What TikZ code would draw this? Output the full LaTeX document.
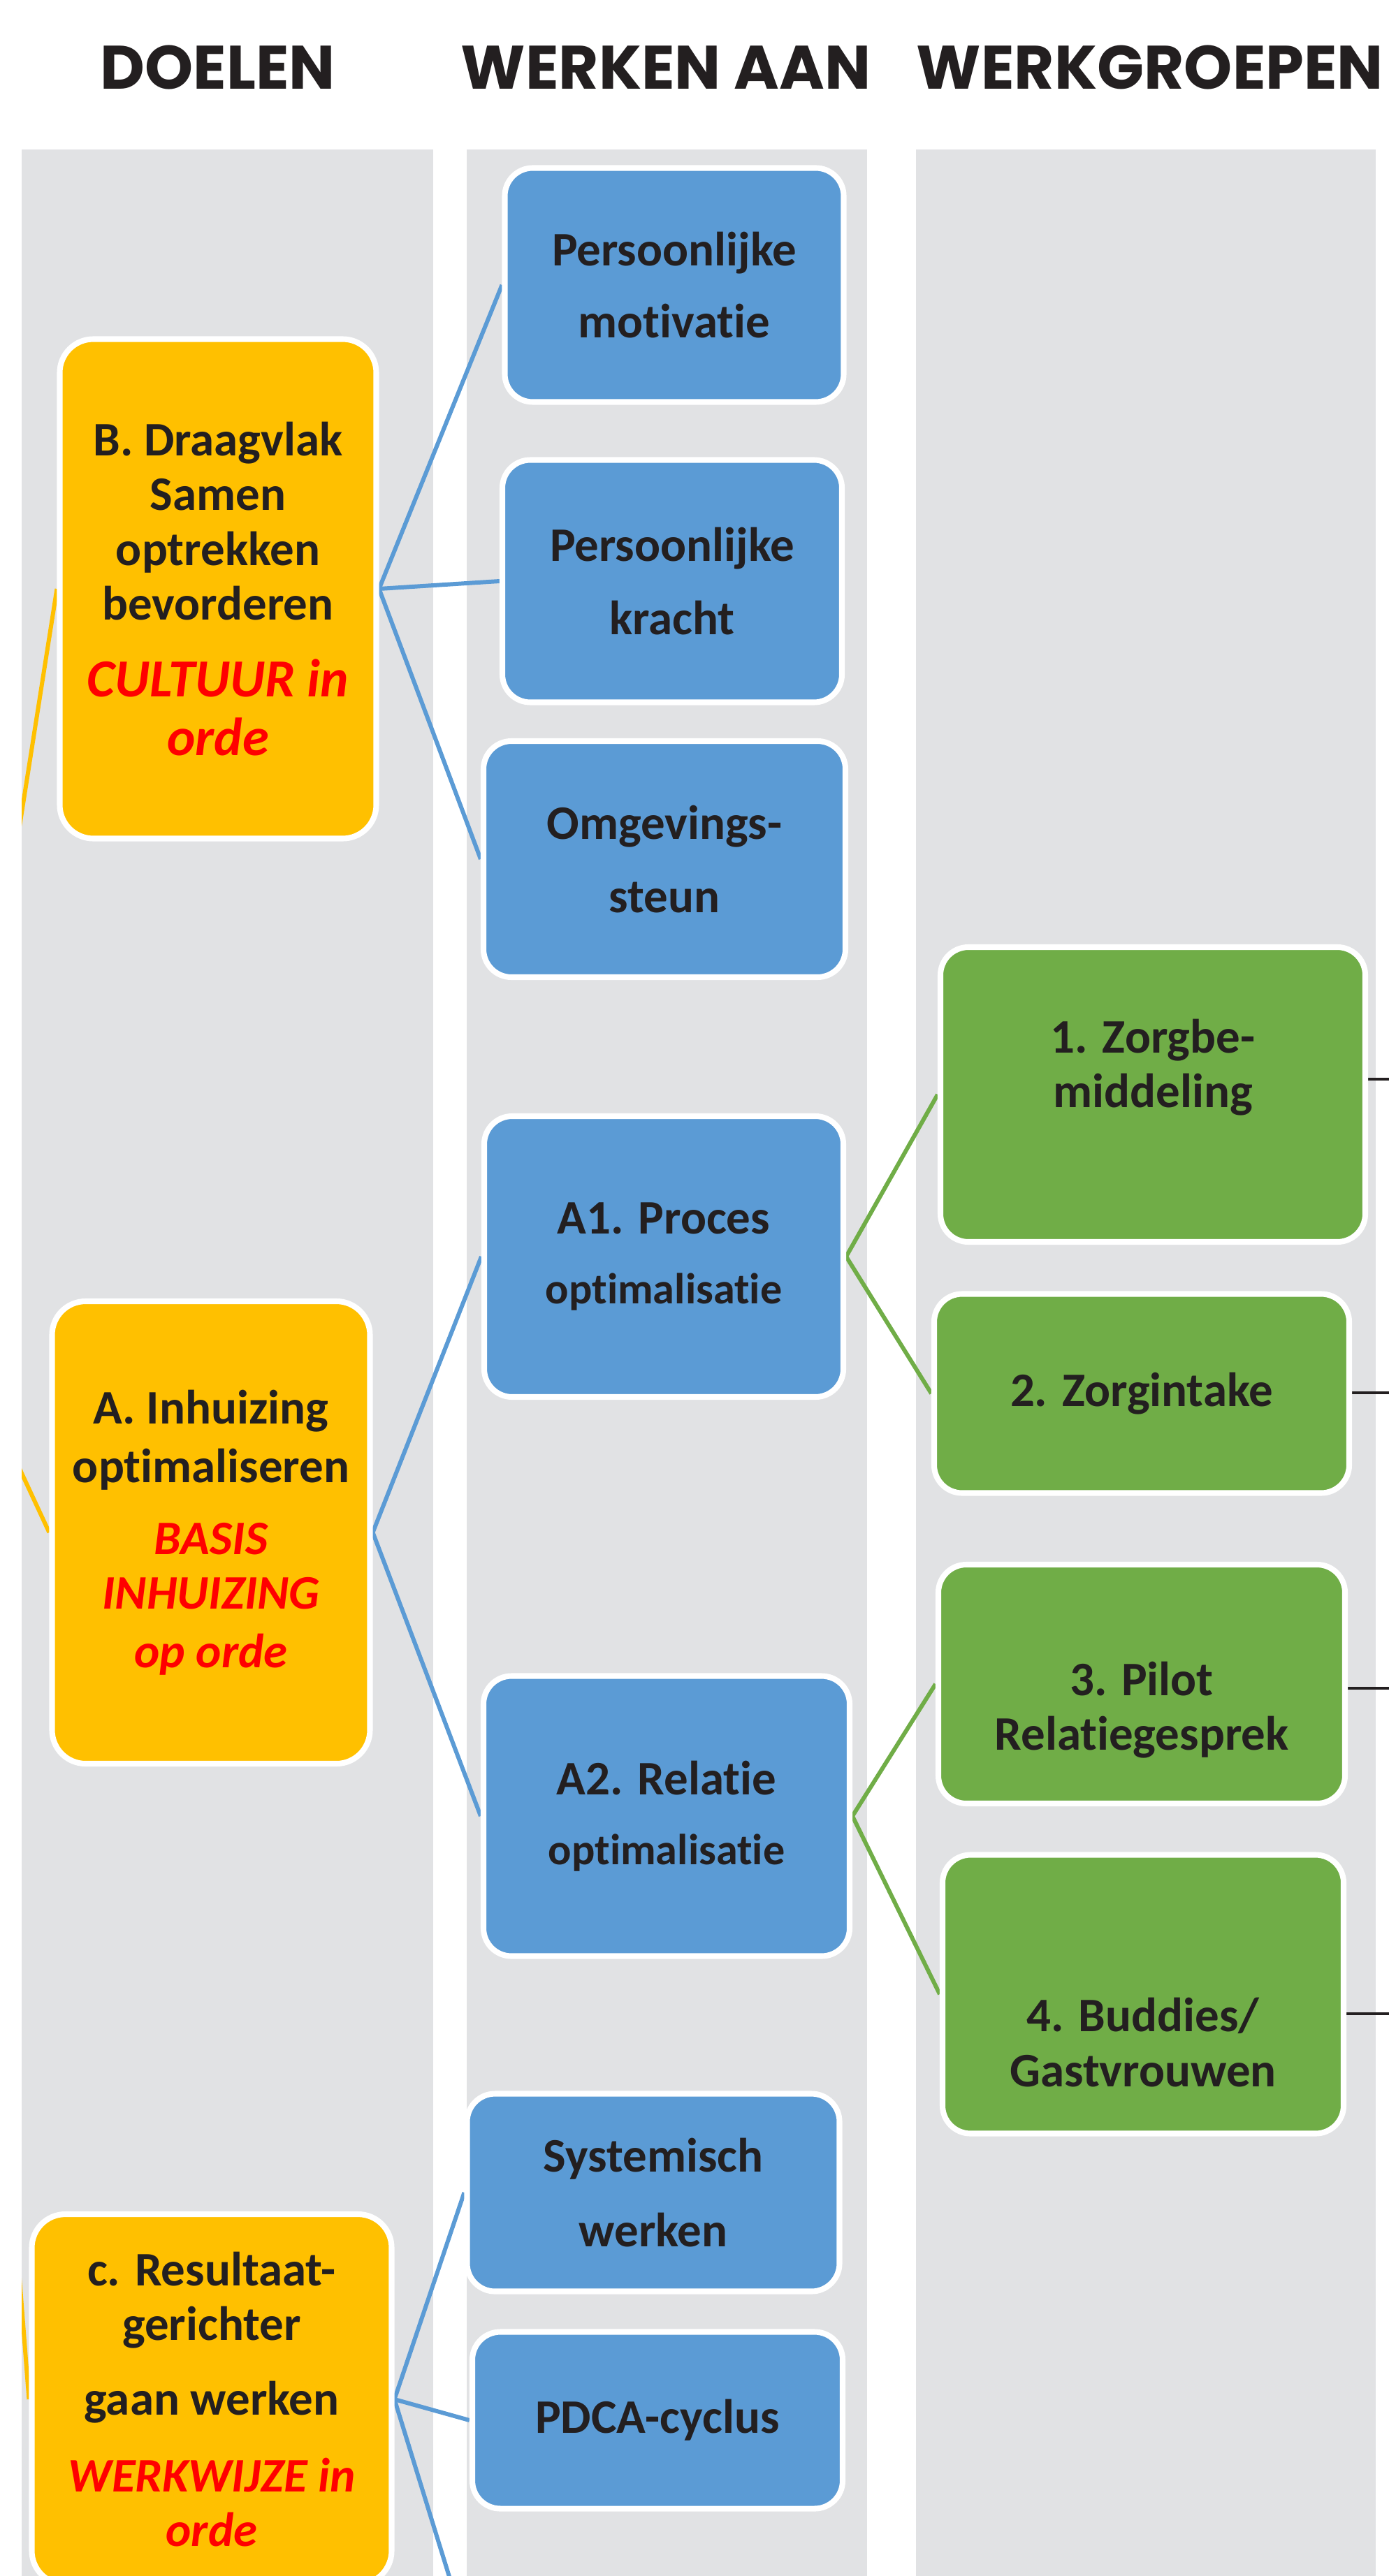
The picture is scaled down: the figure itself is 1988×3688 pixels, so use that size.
\documentclass[tikz,border=0pt]{standalone}
\usepackage{fontspec}
\setmainfont{Carlito}[Ligatures=NoCommon]
\newfontfamily\headfont{Poppins}
\usepackage{tikz}
\usetikzlibrary{backgrounds}
\definecolor{colgray}{RGB}{225,226,228}
\definecolor{goalyellow}{HTML}{FFC000}
\definecolor{aimblue}{HTML}{5B9BD5}
\definecolor{groupgreen}{HTML}{70AD47}
\definecolor{inkdark}{HTML}{231F20}
\newcommand{\rood}[1]{{\color{red}\itshape #1}}

\begin{document}
\begin{tikzpicture}[x=0.01cm, y=-0.01cm,
  txt/.style={align=center, inner sep=0pt, text=inkdark, font=\bfseries\fontsize{19.6}{22.3}\selectfont},
  box/.style={txt, draw=white, line width=2.3pt, rounded corners=0.4cm},
  dims/.style 2 args={minimum width=#1*0.01cm, minimum height=#2*0.01cm},
  goal/.style={box, fill=goalyellow, rounded corners=0.48cm},
  aim/.style={box, fill=aimblue},
  group/.style={box, fill=groupgreen},
  head/.style={font=\headfont\bfseries\fontsize{25}{30}\selectfont, text=inkdark, inner sep=0pt},
  tie/.style={line width=1.7pt},
  feed/.style={line width=1.1pt, draw=inkdark}]
\useasboundingbox (0,0) rectangle (1988,3688);

\node[head] (hDoel) at (312,97) {DOELEN};
\node[head] (hWerk) at (953,97) {WERKEN AAN};
\node[head] (hGroep) at (1646,97) {WERKGROEPEN};

\node[goal, dims={453}{715}] (gB) at (312,843) {B. Draagvlak\\Samen\\optrekken\\bevorderen\\[9pt]{\fontsize{21.8}{22.3}\selectfont\rood{CULTUUR in}}\\[1.5pt]{\fontsize{21.8}{22.3}\selectfont\rood{orde}}};
\node[goal, dims={455}{662}] (gA) at (302,2194) {A. Inhuizing\\[1.5pt]optimaliseren\\[7pt]\rood{BASIS}\\\rood{INHUIZING}\\[1.5pt]\rood{op orde}};
\node[goal, dims={515}{530}] (gC) at (303,3435) {c. Resultaat-\\gerichter\\[8pt]gaan werken\\[9pt]\rood{WERKWIJZE in}\\\rood{orde}};

\node[aim, dims={485}{335}] (p1) at (965,408) {Persoonlijke\\[7pt]motivatie};
\node[aim, dims={486}{347}] (p2) at (962,832) {Persoonlijke\\[7.5pt]kracht};
\node[aim, dims={518}{338}] (p3) at (951,1230) {Omgevings-\\[7.5pt]steun};
\node[aim, dims={514}{402}] (a1) at (950,1799) {A1. Proces\\[6pt]{\fontsize{17.7}{22.3}\selectfont optimalisatie}};
\node[aim, dims={524}{401}] (a2) at (954,2600) {A2. Relatie\\[6pt]{\fontsize{17.7}{22.3}\selectfont optimalisatie}};
\node[aim, dims={533}{283}] (s1) at (935,3139) {Systemisch\\[8pt]werken};
\node[aim, dims={530}{253}] (s2) at (941,3465) {PDCA-cyclus};

\node[group, dims={608}{422}] (g1) at (1650,1567) {};
\node[txt] (g1t) at ([yshift=11pt]g1.center) {1. Zorgbe-\\middeling};
\node[group, dims={594}{285}] (g2) at (1634,1995) {2. Zorgintake};
\node[group, dims={582}{342}] (g3) at (1634,2411) {};
\node[txt] (g3t) at ([yshift=-10.5pt]g3.center) {3. Pilot\\Relatiegesprek};
\node[group, dims={574}{399}] (g4) at (1636,2855) {};
\node[txt] (g4t) at ([yshift=-19.6pt]g4.center) {4. Buddies/\\Gastvrouwen};

\coordinate (top) at (-80,1870);
\coordinate (next) at (665,3760);
\coordinate (o1) at (2000,1545);
\coordinate (o2) at (2000,1994);
\coordinate (o3) at (2000,2417);
\coordinate (o4) at (2000,2883);

\begin{scope}[on background layer]
\fill[colgray] (31,214) rectangle (620,3688);
\fill[colgray] (668,214) rectangle (1241,3688);
\fill[colgray] (1311,214) rectangle (1969,3688);
\begin{scope}
\clip (31,214) rectangle (620,3688);
\draw[tie, goalyellow] (gB.west) -- (top);
\draw[tie, goalyellow] (gA.west) -- (top);
\draw[tie, goalyellow] (gC.west) -- (top);
\end{scope}
\draw[tie, aimblue] (gB.east) -- (p1.west);
\draw[tie, aimblue] (gB.east) -- (p2.west);
\draw[tie, aimblue] (gB.east) -- (p3.west);
\draw[tie, aimblue] (gA.east) -- (a1.west);
\draw[tie, aimblue] (gA.east) -- (a2.west);
\draw[tie, aimblue] (gC.east) -- (s1.west);
\draw[tie, aimblue] (gC.east) -- (s2.west);
\draw[tie, aimblue] (gC.east) -- (next);
\draw[tie, groupgreen] (a1.east) -- (g1.west);
\draw[tie, groupgreen] (a1.east) -- (g2.west);
\draw[tie, groupgreen] (a2.east) -- (g3.west);
\draw[tie, groupgreen] (a2.east) -- (g4.west);
\draw[feed] (g1.east |- o1) -- (o1);
\draw[feed] (g2.east |- o2) -- (o2);
\draw[feed] (g3.east |- o3) -- (o3);
\draw[feed] (g4.east |- o4) -- (o4);
\end{scope}
\end{tikzpicture}
\end{document}
